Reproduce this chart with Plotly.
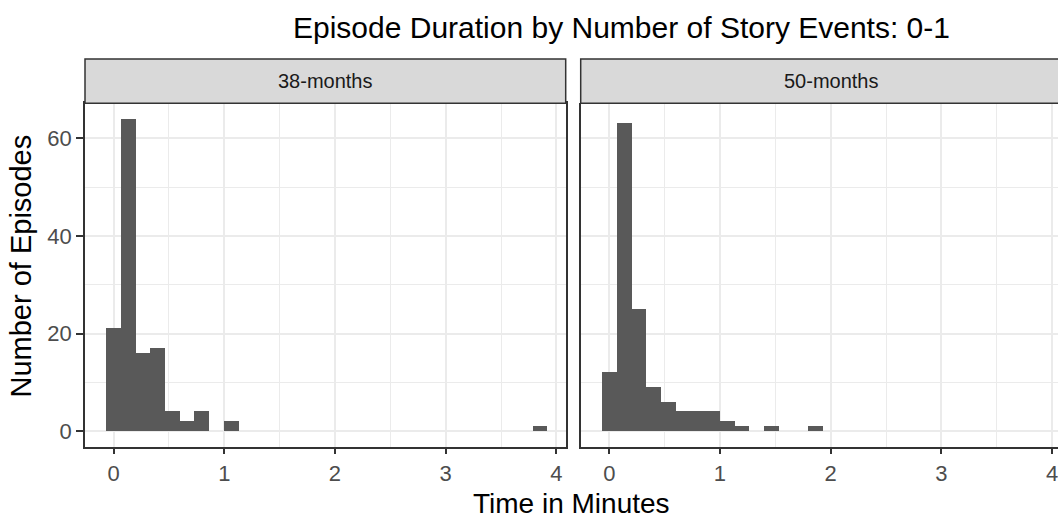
import plotly.graph_objects as go

# ---- data ----
panels = ["38-months", "50-months"]
bin_width = 0.1328
bin_index = list(range(30))
counts_38 = [21, 64, 16, 17, 4, 2, 4, 0, 2, 0,
             0, 0, 0, 0, 0, 0, 0, 0, 0, 0,
             0, 0, 0, 0, 0, 0, 0, 0, 0, 1]
counts_50 = [12, 63, 25, 9, 6, 4, 4, 4, 2, 1,
             0, 1, 0, 0, 1, 0, 0, 0, 0, 0,
             0, 0, 0, 0, 0, 0, 0, 0, 0, 0]
x_ticks = [0, 1, 2, 3, 4]
y_ticks = [0, 20, 40, 60]
title = "Episode Duration by Number of Story Events: 0-1"
x_title = "Time in Minutes"
y_title = "Number of Episodes"

W, H = 1058, 519
FONT = "Liberation Sans, Arial, sans-serif"
BAR = "#595959"
GRID = "#EBEBEB"
FRAME = "#333333"
TICKTXT = "#4D4D4D"

centers = [k * bin_width for k in bin_index]

def px(x):
    return x / W

def py(y):
    return (H - y) / H

plot_top, plot_bot = 103.3, 446.7
strip_top = 59.0
left_dom = [px(85), px(565.7)]
right_dom = [px(580.7), 1.0]
ppu = 110.7
x0 = -0.258
left_range = [x0, x0 + (565.7 - 85) / ppu]
right_range = [x0, x0 + (1058 - 580.7) / ppu]
y_range = [-3.2, 67.2]

fig = go.Figure()
for i, counts in enumerate([counts_38, counts_50]):
    fig.add_trace(go.Bar(
        x=centers, y=counts, width=bin_width,
        marker=dict(color=BAR, line=dict(width=0)),
        xaxis="x" if i == 0 else "x2", yaxis="y" if i == 0 else "y2",
        showlegend=False, hoverinfo="x+y",
    ))

tickfont = dict(family=FONT, size=22, color=TICKTXT)
common_x = dict(
    tickvals=x_ticks, ticks="outside", ticklen=6, tickwidth=1.5, tickcolor=FRAME,
    showgrid=True, gridcolor=GRID, gridwidth=1.5,
    minor=dict(dtick=0.5, tick0=0, showgrid=True, gridcolor=GRID, gridwidth=0.8),
    zeroline=False, showline=True, linecolor=FRAME, linewidth=1.5,
    tickfont=tickfont, fixedrange=True, ticklabeloverflow="allow",
)
common_y = dict(
    range=y_range, tickvals=y_ticks, ticklen=7, tickwidth=1.5,
    tickcolor=FRAME, showgrid=True, gridcolor=GRID, gridwidth=1.5,
    minor=dict(dtick=10, tick0=0, showgrid=True, gridcolor=GRID, gridwidth=0.8),
    zeroline=False, showline=True, linecolor=FRAME, linewidth=1.5,
    tickfont=tickfont, fixedrange=True,
)

fig.update_layout(
    width=W, height=H,
    margin=dict(l=0, r=0, t=0, b=0),
    paper_bgcolor="white", plot_bgcolor="white",
    bargap=0,
    xaxis=dict(domain=left_dom, range=left_range, anchor="y", mirror=True, **common_x),
    xaxis2=dict(domain=right_dom, range=right_range, anchor="y2", **common_x),
    yaxis=dict(domain=[py(plot_bot), py(plot_top)], anchor="x", mirror=True,
               ticks="outside", **common_y),
    yaxis2=dict(domain=[py(plot_bot), py(plot_top)], anchor="x2", showticklabels=False,
                ticks="", **common_y),
)

# strips
strip_centers = [(left_dom[0] + left_dom[1]) / 2, px(831)]
for dom, label, cx in zip([left_dom, right_dom], panels, strip_centers):
    fig.add_shape(type="rect", xref="paper", yref="paper",
                  x0=dom[0], x1=dom[1] + (0.01 if dom[1] >= 1 else 0),
                  y0=py(plot_top), y1=py(strip_top),
                  fillcolor="#D9D9D9", line=dict(color=FRAME, width=1.5), layer="above")
    fig.add_annotation(x=cx, y=(py(plot_top) + py(strip_top)) / 2,
                       xref="paper", yref="paper", text=label, showarrow=False,
                       font=dict(family=FONT, size=20, color="#1A1A1A"),
                       xanchor="center", yanchor="middle")

# title and axis titles
fig.add_annotation(x=px(621), y=py(27), xref="paper", yref="paper", text=title,
                   showarrow=False, font=dict(family=FONT, size=30, color="black"),
                   xanchor="center", yanchor="middle")
fig.add_annotation(x=px(571), y=py(503), xref="paper", yref="paper", text=x_title,
                   showarrow=False, font=dict(family=FONT, size=28, color="black"),
                   xanchor="center", yanchor="middle")
fig.add_annotation(x=px(20), y=py(266.5), xref="paper", yref="paper", text=y_title,
                   showarrow=False, textangle=-90,
                   font=dict(family=FONT, size=29, color="black"),
                   xanchor="center", yanchor="middle")

fig.write_html("out.html")
